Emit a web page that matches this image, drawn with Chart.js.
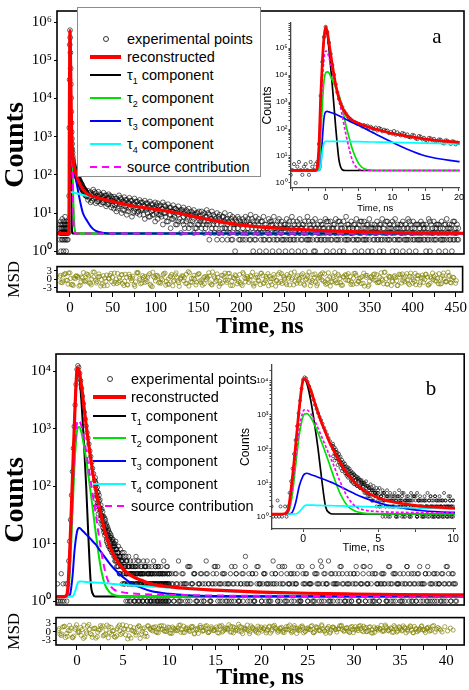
<!DOCTYPE html>
<html>
<head>
<meta charset="utf-8">
<title>Decay curves a / b</title>
<script src="https://cdn.jsdelivr.net/npm/chart.js@4.4.1/dist/chart.umd.min.js"></script>
<style>
  body { margin: 0; background: #fff; }
  #wrap { position: relative; width: 469px; height: 690px; overflow: hidden; background: #fff;
          font-family: "Liberation Sans", Arial, sans-serif; color: #000; }
  #wrap canvas { position: absolute; }
  .ytitle { position: absolute; font: bold 28px "Liberation Serif", "Times New Roman", serif;
            transform: translate(-50%, -50%) rotate(-90deg); white-space: nowrap; }
  .tag { position: absolute; font: 21px "Liberation Serif", "Times New Roman", serif; transform: translate(-50%, -50%); }
  .lbox { position: absolute; border: 1px solid #8c8c8c; background: #fff; }
  .lrow { position: absolute; width: 0; height: 0; }
  .sw { position: absolute; left: 0; }
  .dot { position: absolute; width: 4px; height: 4px; border: 1px solid #333; border-radius: 50%; }
  .lt { position: absolute; top: 0; transform: translateY(-50%); white-space: nowrap; line-height: 1; font-size: 14.5px; }
  .lt sub { font-size: 9px; vertical-align: -4px; line-height: 0; }
</style>
</head>
<body>
<div id="wrap">
  <canvas id="aMain" width="469" height="265" style="left:0px;top:0px"></canvas>
  <canvas id="aRes" width="469" height="85" style="left:0px;top:258px"></canvas>
  <canvas id="bMain" width="469" height="276" style="left:0px;top:340px"></canvas>
  <canvas id="bRes" width="469" height="81" style="left:0px;top:609px"></canvas>
  <canvas id="aInset" width="215" height="205" style="left:250px;top:15px"></canvas>
  <canvas id="bInset" width="240" height="200" style="left:225px;top:355px"></canvas>
  <div class="ytitle" style="left:14px;top:145px">Counts</div>
  <div class="ytitle" style="left:14px;top:500px">Counts</div>
  <div class="tag" style="left:437px;top:36px">a</div>
  <div class="tag" style="left:431px;top:388px">b</div>
</div>
<script>
// ---------- panel a : data (times in ns, counts) ----------
// measured counts, channel grid -12 ns .. 20 ns, step 0.25 ns
var aNearStart = -12, aNearStep = 0.25;
var aNear = [4,2,5,3,3,6,1,4,3,5,2,4,7,3,2,5,4,3,1,6,3,4,2,5,3,8,4,2,3,5,1,4,6,3,2,4,5,3,2,6,4,3,5,
  6,28,1700,31000,255000,612000,392000,158000,61000,23500,10300,4500,2300,1320,880,650,470,385,300,255,228,198,182,172,158,152,
  141,124,139,117,133,109,121,106,98,113,88,108,101,82,94,86,88,70,78,67,84,61,75,64,
  58,71,67,54,63,50,49,60,58,45,42,55,52,41,47,39,36,47,45,38,43,34,33,41,40,31,29,38,37,33,28,35,34,27,31,30];
// long tail, step 3 ns, several overlapping channel subsets
var aFarStart = 21, aFar2Start = 22.5, aFarStep = 3;
var aFarHi = [38,35,41,33,36,30,34,29,31,27,
  27,24,29,23,26,22,25,21,24,20,22,19,21,18,20,17,19,
  18,16,19,15,17,14,16,13,15,12,14,12,13,11,12,10,11,
  11,10,12,9,11,8,10,9,8,10,7,9,8,7,8,6,7,
  8,7,9,6,8,7,6,8,5,7,6,8,5,7,6,5,
  7,6,8,5,6,7,5,6,8,5,6,7,5,6,5,7,6,
  6,5,7,6,5,6,8,5,6,5,7,5,6,6,5,7,5,
  5,6,5,7,5,6,5,6,7,5,5,6,5,7,5,6,5,
  5,6,5,5,7,5,6,5,5,6,5,7,5,5,6,5];
var aFarMid = [29,26,31,25,27,24,26,22,25,21,
  20,18,21,17,19,16,18,15,17,14,16,13,15,13,14,12,13,
  12,11,13,10,12,9,11,10,9,10,8,9,8,9,7,8,7,
  7,6,8,5,7,6,5,7,4,6,5,4,6,5,4,5,4,
  5,4,5,3,4,5,3,4,4,3,5,4,3,4,3,4,
  4,3,4,3,4,3,4,3,3,4,3,4,3,3,4,3,4,
  3,4,3,3,4,3,3,4,3,3,4,3,3,4,3,3,4,
  3,3,4,3,3,3,4,3,3,4,3,3,3,4,3,3,3,
  3,3,4,3,3,3,3,4,3,3,3,3,4,3,3,3];
var aFarLo = [22,19,24,18,20,17,19,15,17,14,
  13,11,15,10,12,9,13,8,11,10,9,12,7,10,8,9,6,
  7,9,5,8,6,4,7,5,6,3,5,6,4,5,3,4,5,
  4,3,5,2,4,3,2,3,2,4,2,3,2,1,3,2,2,
  2,3,2,1,2,3,2,2,1,2,3,2,2,1,2,2,
  2,2,1,2,2,3,2,1,2,2,2,1,2,2,3,2,2,
  2,1,2,2,2,1,2,2,3,2,2,2,1,2,2,2,1,
  2,2,1,2,2,2,2,1,2,2,2,1,2,2,2,2,1,
  2,2,2,1,2,2,2,2,1,2,2,2,2,1,2,2];
var aFar2A = [33,30,36,28,31,27,29,25,28,24,
  24,21,25,20,22,19,21,18,20,17,19,16,18,15,17,14,16,
  15,13,16,12,14,11,13,12,11,12,10,11,9,10,9,10,8,
  9,8,10,7,9,7,8,6,8,7,6,7,5,6,7,5,6,
  6,5,7,5,6,4,6,5,4,6,5,4,6,5,4,5,
  5,4,6,4,5,4,5,4,6,4,5,4,4,5,4,6,4,
  4,5,4,6,4,4,5,4,4,5,4,6,4,4,5,4,4,
  4,4,5,4,6,4,4,5,4,4,5,4,4,6,4,4,5,
  4,5,4,4,6,4,4,5,4,4,5,4,4,6,4,4];
var aFar2B = [25,21,27,20,23,19,22,17,20,16,
  16,13,17,12,15,11,14,10,13,11,12,9,12,8,11,9,10,
  9,8,10,6,9,7,8,5,7,6,4,7,5,6,4,5,6,
  5,4,6,3,5,4,3,5,3,4,3,2,4,3,2,3,3,
  3,2,4,2,3,1,3,2,3,2,1,3,2,3,2,1,
  3,2,2,3,1,2,3,2,2,3,1,2,3,2,2,1,3,
  2,3,2,1,3,2,2,3,2,1,2,3,2,2,1,3,2,
  3,2,2,1,3,2,3,2,1,2,3,2,2,1,3,2,2,
  2,3,2,2,1,3,2,3,2,2,1,3,2,2,3,2];
// fitted curves
var aCurveT = [-15,-5,-1.5,-1.25,-1,-0.75,-0.5,-0.25,0,0.25,0.5,0.75,1,1.25,1.5,1.75,2,2.5,3,3.5,4,5,6,7,8,10,12,15,20,25,30,40,50,75,100,125,150,200,250,300,350,400,460];
var aFit = [2.9,2.9,2.9,4,25,1500,3e4,2.5e5,6e5,4e5,1.6e5,6e4,2.4e4,1e4,4500,2300,1350,620,380,270,
  210,160,128,107,92,68,55,42,32,28,26,22.5,20,15,12.5,10,7.6,4.8,3.9,3.4,3.15,3.0,2.95];
var aTau1 = [2.9,2.9,2.9,3.5,20,1200,2.5e4,2e5,5e5,3e5,9e4,2e4,4000,700,120,25,7,3.1,2.9,2.9,
  2.9,2.9,2.9,2.9,2.9,2.9,2.9,2.9,2.9,2.9,2.9,2.9,2.9,2.9,2.9,2.9,2.9,2.9,2.9,2.9,2.9,2.9,2.9];
var aTau2 = [2.9,2.9,2.9,3,4,50,800,6000,1.2e4,1.3e4,1.2e4,9000,6500,4800,3500,2500,1800,600,150,50,
  18,5,3.2,2.95,2.9,2.9,2.9,2.9,2.9,2.9,2.9,2.9,2.9,2.9,2.9,2.9,2.9,2.9,2.9,2.9,2.9,2.9,2.9];
var aTau3 = [2.9,2.9,2.9,2.9,2.9,4,40,250,430,450,430,410,390,370,350,330,310,270,230,200,
  175,135,100,75,56,32,19,10,6.2,4.2,3.4,3.0,2.9,2.9,2.9,2.9,2.9,2.9,2.9,2.9,2.9,2.9,2.9];
var aTau4 = [2.9,2.9,2.9,2.9,2.95,4,15,30,35,35,35,35,35,35,35,35,35,34.8,34.6,34.4,
  34.2,33.8,33.4,33,32.6,31.8,31,29.8,28,26.4,24.9,22.2,19.8,14.8,12.3,9.8,7.5,4.7,3.8,3.35,3.1,2.98,2.93];
var aSource = [2.9,2.9,2.9,3,8,300,6000,4e4,7.8e4,7e4,4.5e4,2.5e4,1.4e4,8000,4500,2500,1300,300,70,20,
  7,3.2,2.92,2.9,2.9,2.9,2.9,2.9,2.9,2.9,2.9,2.9,2.9,2.9,2.9,2.9,2.9,2.9,2.9,2.9,2.9,2.9,2.9];
// weighted residuals (MSD), three interleaved channel subsets, step 3 ns
var aResStart1 = -12, aResStart2 = -10.5, aResStart3 = -11.25, aResStep = 3;
var aRes1 = [0.8,-1.2,1.9,-0.4,2.3,-1.8,0.2,1.1,-2.1,0.6,-0.9,1.7,-1.4,2.6,-0.3,0.9,-2.4,1.3,-0.7,0.4,
  2.1,-1.6,0.1,-1.1,1.5,-2.2,0.7,1.8,-0.5,-1.9,2.4,0.3,-1.3,1.0,-0.8,2.0,-2.6,0.5,1.4,-1.0,
  -0.2,2.2,-1.7,0.9,-2.3,1.6,-0.6,0.2,1.2,-1.5,2.7,-0.9,0.4,-2.0,1.9,-1.2,0.6,-0.1,2.3,-1.8,
  1.1,-0.4,-2.5,1.4,0.8,-1.1,2.1,-0.7,0.3,-1.6,1.7,-2.2,0.5,1.0,-0.3,2.5,-1.4,0.7,-1.9,1.3,
  -0.5,2.0,-1.0,0.2,-2.4,1.8,-0.8,1.1,-1.3,0.4,2.2,-2.0,0.9,-0.6,1.5,-1.7,0.1,2.6,-1.1,0.6,
  -2.3,1.2,-0.2,1.9,-1.5,0.8,-0.9,2.4,-1.2,0.3,-2.1,1.6,-0.4,1.0,-1.8,2.1,-0.7,0.5,-1.4,1.4,
  -2.5,0.7,1.7,-0.3,-1.0,2.3,-1.6,0.2,1.1,-2.2,0.9,-0.5,1.8,-1.3,0.4,2.0,-1.9,0.6,-0.8,1.3,
  -2.0,1.5,-0.1,0.8,-1.5,2.2,-0.6,0.3,-1.7,1.2,-0.9,2.5,-1.1,0.7,-1.4];
var aRes2 = [-1.1,1.6,-0.3,2.2,-1.9,0.5,1.2,-2.4,0.8,-0.6,1.9,-1.3,0.1,2.5,-0.8,1.0,-1.7,0.4,-2.2,1.4,
  0.7,-1.0,2.1,-0.5,-1.5,1.8,-2.0,0.3,1.1,-0.9,2.4,-1.6,0.6,-0.2,1.5,-2.3,0.9,1.3,-1.2,0.2,
  2.0,-0.7,-1.8,1.7,-0.4,0.8,-2.5,1.2,0.5,-1.4,2.3,-1.1,0.0,1.6,-0.6,-2.1,1.0,0.4,-1.3,2.6,
  -0.9,0.7,-1.6,1.4,-0.3,2.1,-2.2,0.6,1.2,-0.8,-1.7,1.9,0.2,-1.1,0.9,-2.4,1.5,-0.5,2.2,-1.2,
  0.3,1.1,-1.9,0.8,-0.4,2.4,-1.5,0.1,1.7,-2.0,0.5,-0.7,1.3,-1.4,2.0,-0.2,0.9,-2.3,1.6,-1.0,
  0.4,1.8,-0.6,-1.8,2.3,-0.9,0.6,-1.3,1.2,-2.1,0.8,1.5,-0.4,-1.0,2.1,-1.6,0.3,0.9,-2.4,1.4,
  -0.7,0.2,1.9,-1.2,0.7,-0.3,2.5,-1.7,1.0,-0.8,0.5,-2.2,1.6,-0.5,1.1,-1.4,2.2,-0.1,-1.9,1.3,
  0.6,-1.1,1.8,-2.0,0.4,1.0,-0.6,2.0,-1.5,0.2,-0.9,1.4,-0.2];
var aRes3 = [1.4,-0.6,2.0,-1.7,0.3,-2.2,1.1,0.6,-1.0,2.4,-0.4,1.2,-2.0,0.8,-1.3,1.9,-0.1,-2.3,1.5,0.2,
  -0.9,2.2,-1.5,0.5,1.7,-0.7,-1.9,1.0,0.4,-2.5,2.1,-0.3,1.3,-1.1,0.7,-1.8,2.5,-0.6,0.9,-1.4,
  1.6,-2.1,0.1,1.1,-0.8,2.3,-1.2,0.6,-0.5,1.8,-2.4,0.3,1.4,-1.0,2.0,-0.2,-1.6,0.8,1.2,-2.0,
  0.5,1.9,-0.7,-1.3,2.2,-0.4,0.9,-2.2,1.6,0.0,-1.1,2.4,-0.9,0.4,1.3,-1.7,0.7,-0.3,2.1,-1.5,
  1.0,-2.3,0.2,1.7,-0.6,-1.2,2.0,0.5,-1.9,1.1,-0.1,2.6,-1.4,0.3,0.8,-2.1,1.5,-0.7,-0.4,1.9,
  -1.6,0.6,2.3,-1.0,0.1,-2.4,1.2,-0.5,1.8,-1.3,0.9,-0.2,2.0,-1.8,0.4,1.4,-0.8,-1.5,2.2,0.7,
  -2.0,1.0,-0.3,1.6,-1.1,0.2,2.5,-1.7,0.6,-0.6,1.3,-2.2,0.8,1.9,-0.9,-0.4,1.1,-1.4,2.1,0.3,
  -1.2,0.5,1.7,-2.0,0.9,-0.1,1.5,-1.6,0.4,2.2,-0.7,1.0,-1.3,0.6,-0.5];

// ---------- panel b ----------
var bNearStart = -2.2, bNearStep = 0.1;   // -2.2 .. 10 ns
var bNear = [1,2,1,null,1,3,1,2,1,null,2,1,
  2,5,11,26,70,180,460,1100,2600,5900,
  10800,12600,11700,9300,6900,5100,3700,2750,1950,1480,
  1120,860,690,545,415,330,262,205,166,128,
  98,88,66,61,45,42,31,29,22,23,
  17,21,12,16,14,9,13,11,8,12,
  9,6,8,5,7,4,6,3,5,4,
  4,3,2,5,3,2,4,1,3,2,
  3,2,1,4,2,3,1,2,3,2,
  2,3,1,2,4,2,1,3,2,1,
  2,1,3,2,null,2,1,3,1,2,
  1,2,3,1,2,null,2,1,3,2,1];
var bMidStart = 2.0, bMidStep = 0.1;      // 2 .. 10 ns, extra channel subsets
var bMidA = [120,72,80,50,55,35,38,25,30,18,24,15,19,10,17,12,8,14,7,10,
  6,10,5,8,4,7,3,6,5,2,6,2,4,3,5,1,3,4,2,3,2,4,3,1,3,2,5,2,1,3,
  3,1,2,4,2,3,1,2,3,2,1,3,2,2,1,4,2,1,2,3,2,1,2,3,1,2,1,2,4,1,2];
var bMidB = [140,110,95,78,70,58,47,40,36,30,28,26,22,20,18,16,15,13,12,11,
  10,9,11,8,7,9,6,8,5,7,5,7,4,6,5,4,6,3,5,4,4,5,3,4,6,3,4,5,3,4,
  4,3,5,3,4,2,5,3,4,3,3,4,2,5,3,4,3,2,4,3,3,4,2,3,5,3,2,4,3,2,3];
var bMidC = [60,45,52,33,40,27,22,30,19,16,14,18,11,13,9,12,8,10,7,9,
  8,5,7,4,6,5,3,6,4,5,3,2,4,1,3,2,4,2,1,3,2,3,1,2,4,2,3,1,2,3,
  2,1,3,2,2,4,1,3,2,2,1,3,2,1,3,2,2,1,4,2,1,3,2,1,2,3,1,2,2,1,3];
var bFarStart = 10.25, bFarStep = 0.25;   // 10.25 .. 41 ns
var bFarA = [2,1,3,1,2,2,1,4,1,2,3,1,2,1,1,3,2,1,2,4,1,2,1,3,2,1,1,2,3,1,2,1,4,2,1,3,1,2,2,1,
  3,1,2,1,2,3,1,1,2,4,1,2,3,1,2,1,1,3,2,1,2,1,3,2,1,4,1,2,1,3,1,2,2,1,3,1,2,1,1,3,
  2,1,2,4,1,2,1,3,1,2,1,2,3,1,2,1,1,3,2,1,2,1,4,2,1,3,1,2,1,2,3,1,2,1,1,3,2,1,2,1,3,1,2,1];
var bFarB = [3,1,2,5,1,3,2,1,4,2,3,1,2,3,1,5,2,1,3,2,4,1,3,2,1,2,4,1,3,1,2,3,6,1,2,3,1,4,2,1,
  3,2,1,2,5,3,1,2,4,1,3,2,1,3,2,4,1,2,3,1,2,4,1,3,2,1,3,2,5,1,2,3,1,4,2,1,3,2,1,3,
  4,1,2,3,1,2,4,1,3,2,1,3,2,1,4,2,3,1,2,3,1,2,4,1,3,2,1,3,2,1,3,4,1,2,3,1,2,3,1,4,2,1,3,2];
var bFarC = [2,3,2,1,3,2,2,4,2,3,1,2,3,2,2,3,1,2,4,3,2,2,3,1,2,3,2,4,2,1,3,2,2,3,2,1,3,4,2,2,
  3,2,1,3,2,2,4,3,2,1,2,3,2,2,3,1,4,2,3,2,2,1,3,2,5,2,3,2,1,3,2,2,3,4,2,1,2,3,2,2,
  3,1,2,4,2,3,2,1,3,2,2,3,2,1,4,2,3,2,2,1,3,2,3,2,1,2,3,4,2,2,1,3,2,3,2,2,1,3,2,4,2,3,2,1];
var bCurveT = [-2.5,-1.5,-1.25,-1,-0.75,-0.5,-0.25,0,0.1,0.25,0.5,0.75,1,1.25,1.5,1.75,2,2.5,3,3.5,4,5,6,7,8,10,12,15,20,25,30,35,42];
var bFit = [1.2,1.2,1.22,1.6,10,120,1600,1.05e4,1.15e4,1.0e4,5500,2500,1150,560,300,160,95,38,17,9.5,
  6.2,3.6,2.7,2.3,2.0,1.78,1.66,1.56,1.44,1.37,1.33,1.3,1.28];
var bTau1 = [1.2,1.2,1.21,1.5,9,110,1500,1.0e4,1.1e4,8500,2800,600,100,12,2.0,1.3,1.2,1.2,1.2,1.2,
  1.2,1.2,1.2,1.2,1.2,1.2,1.2,1.2,1.2,1.2,1.2,1.2,1.2];
var bTau2 = [1.2,1.2,1.2,1.3,3.5,30,260,900,1050,1080,850,520,290,150,75,36,17,4.5,2.0,1.45,
  1.28,1.22,1.2,1.2,1.2,1.2,1.2,1.2,1.2,1.2,1.2,1.2,1.2];
var bTau3 = [1.2,1.2,1.2,1.2,1.3,2.5,8,16,18,19,17.5,16,14.5,13.2,12,10.8,9.8,7.6,5.9,4.6,
  3.7,2.6,2.0,1.7,1.5,1.34,1.27,1.23,1.21,1.21,1.21,1.21,1.21];
var bTau4 = [1.2,1.2,1.2,1.2,1.2,1.2,1.4,1.9,2.1,2.2,2.2,2.18,2.15,2.14,2.13,2.12,2.1,2.08,2.05,2.02,
  1.98,1.93,1.88,1.84,1.8,1.72,1.62,1.52,1.4,1.34,1.3,1.28,1.26];
var bSource = [1.2,1.2,1.2,1.35,5,50,400,1250,1400,1380,1100,700,400,220,120,65,36,10,3.6,2.0,
  1.6,1.42,1.36,1.33,1.31,1.29,1.27,1.25,1.24,1.23,1.23,1.23,1.23];
var bResStart1 = -2, bResStart2 = -1.85, bResStart3 = -1.95, bResStep = 0.3;
var bRes1 = [0.5,-1.4,1.8,-0.6,2.3,-2.0,0.9,-0.3,1.5,-2.4,0.2,2.6,-1.1,1.2,-1.8,0.7,2.1,-0.9,-2.2,1.6,
  0.4,-1.5,2.4,-0.5,1.0,-2.6,1.9,0.3,-1.2,2.2,-0.8,1.4,-1.7,
  1.2,0.3,1.8,-0.4,0.9,2.1,0.1,1.5,-0.6,1.1,0.5,2.4,-0.2,1.3,0.8,1.9,-0.8,0.6,1.6,0.2,2.0,-0.3,
  1.0,0.4,1.7,-0.5,2.2,0.7,1.2,-0.1,1.8,0.5,2.7,0.0,1.4,0.9,-0.7,1.6,0.3,2.0,0.8,1.1,-0.4,1.7,
  0.2,2.3,0.6,1.3,-0.2,0.9,1.9,0.4,1.5,-0.6,1.0,2.1,0.1,1.4,0.7,-0.3,1.8,0.5,2.5,0.2,1.2,-0.5,
  1.6,0.8,1.0,2.0,0.3,1.3,-0.1,1.9,0.6,1.1,2.2,0.0,1.5,0.4,-0.4,1.7,0.9,1.2,0.1,2.4,0.5,1.4,
  -0.2,1.0,1.8,0.3,1.6,0.7,2.1,-0.3,1.1,0.4,1.9,0.8,1.3,0.2,2.0,-0.1,1.5,0.6];
var bRes2 = [-0.9,1.7,-2.1,0.4,1.3,-1.6,2.5,-0.2,0.8,-1.9,2.0,-0.7,1.1,-2.3,0.6,1.5,-1.2,2.4,-0.4,0.2,
  -2.0,1.8,-1.0,0.9,2.2,-1.5,0.5,-0.1,1.6,-2.4,1.0,-0.6,2.1,
  0.6,1.5,-0.2,2.0,0.9,0.1,1.7,-0.5,1.2,0.4,2.3,0.7,-0.3,1.4,0.2,1.9,1.0,-0.6,1.6,0.5,2.2,0.0,
  1.3,0.8,-0.4,1.8,0.3,1.1,2.5,-0.1,1.5,0.6,1.9,-0.7,1.0,0.4,2.1,0.9,-0.2,1.4,0.2,1.7,0.7,-0.5,
  2.0,1.2,0.3,1.6,-0.3,0.9,2.4,0.1,1.3,0.5,1.8,-0.4,1.1,0.8,2.2,0.0,1.5,0.3,1.0,-0.6,1.9,0.6,
  1.4,-0.1,2.1,0.7,1.2,0.2,1.6,-0.3,0.9,2.0,0.4,1.3,0.1,1.8,-0.5,1.1,0.6,2.3,0.2,1.5,0.8,-0.2,
  1.7,0.3,1.0,2.1,-0.4,1.4,0.5,1.9,0.0,1.2,0.7,-0.3,1.6,0.4,2.2,0.9,1.1,-0.1,1.8,0.3,1.3,0.6];
var bRes3 = [1.1,-0.8,2.0,-1.7,0.4,-2.2,1.6,0.2,-1.3,2.4,-0.5,0.9,-2.0,1.3,-0.2,2.2,-1.5,0.6,1.8,-0.9,
  -1.8,1.0,0.3,2.5,-1.1,0.7,-2.3,1.4,-0.4,1.9,0.1,-1.6,2.1,
  0.9,1.6,-0.1,1.2,2.2,0.3,1.0,-0.5,1.7,0.6,1.4,-0.2,2.0,0.8,0.2,1.5,-0.6,1.1,2.3,0.4,1.3,-0.3,
  1.8,0.5,1.0,2.1,-0.1,1.4,0.7,1.9,-0.4,1.2,0.2,1.6,0.9,2.4,0.0,1.3,0.6,-0.5,1.7,1.0,0.3,2.0,
  0.8,1.5,-0.2,1.1,0.4,1.8,0.7,-0.3,2.2,1.2,0.5,1.6,0.1,1.0,1.9,-0.4,1.4,0.6,2.1,0.3,1.3,-0.1,
  1.7,0.8,1.1,2.3,0.2,1.5,-0.3,0.9,1.8,0.4,1.2,2.0,0.0,1.6,0.7,-0.2,1.4,1.0,0.5,1.9,0.3,1.1,
  2.2,-0.1,1.5,0.6,1.3,0.2,1.8,-0.4,1.0,0.7,2.1,0.4,1.2,0.9];

// ---------- styles ----------
var SERIF = '"Liberation Serif", "Times New Roman", serif';
var SANS = '"Liberation Sans", Arial, sans-serif';
var OLIVE = 'rgba(128,128,0,0.85)';
var STYLE = {
  fit:    { label: 'reconstructed',       color: '#ff0000', width: 3.2, order: 0 },
  source: { label: 'source contribution', color: '#ff00ff', width: 2,   order: 1, dashed: true },
  tau4:   { label: 'τ₄ component',        color: '#00ffff', width: 2,   order: 2 },
  tau3:   { label: 'τ₃ component',        color: '#0000ff', width: 2,   order: 3 },
  tau2:   { label: 'τ₂ component',        color: '#00e000', width: 2,   order: 4 },
  tau1:   { label: 'τ₁ component',        color: '#000000', width: 2,   order: 5 }
};

Chart.defaults.animation = false;
Chart.defaults.responsive = false;
Chart.defaults.devicePixelRatio = 1;
Chart.defaults.events = [];
Chart.defaults.plugins.legend.display = false;
Chart.defaults.plugins.tooltip.enabled = false;
Chart.defaults.color = '#000';

// helpers
function onGrid(start, step, ys) { return ys.map(function (y, i) { return { x: +(start + step * i).toFixed(3), y: y }; }); }
function pairs(ts, ys) { return ts.map(function (t, i) { return { x: t, y: ys[i] }; }); }
function fitW(w) { return function (s) { s.width = w; }; }
function fitH(h) { return function (s) { s.height = h; }; }
function setTicks(vals) { return function (s) { s.ticks = vals.map(function (v) { return { value: v }; }); }; }
function steps(a, b, st) { var o = []; for (var v = a; v <= b + 1e-9; v += st) o.push(+v.toFixed(4)); return o; }
function decades(lo, hi, minor, max) {
  var o = [];
  for (var e = lo; e <= hi; e++) {
    o.push(Math.pow(10, e));
    if (minor) for (var m = 2; m <= 9; m++) { if (m * Math.pow(10, e) <= max) o.push(m * Math.pow(10, e)); }
  }
  return o;
}
var SUP = '⁰¹²³⁴⁵⁶⁷⁸⁹';
function powLabel(v) {
  var e = Math.round(Math.log10(v));
  if (Math.abs(v / Math.pow(10, e) - 1) > 1e-6) return '';
  return '10' + String(e).split('').map(function (d) { return SUP[+d]; }).join('');
}

function points(data, r, color) {
  return { label: 'experimental points', data: data, showLine: false, pointRadius: r, pointBorderWidth: 0.8,
           pointBorderColor: color || 'rgba(0,0,0,0.78)', pointBackgroundColor: 'rgba(0,0,0,0)', order: 10 };
}
function curve(key, T, ys, dash, scale) {
  var s = STYLE[key];
  return { label: s.label, data: pairs(T, ys), showLine: true, pointRadius: 0, borderColor: s.color,
           borderWidth: s.width * (scale || 1), borderDash: s.dashed ? dash : [], cubicInterpolationMode: 'monotone', order: s.order };
}
function curveSet(T, c, dash, scale) {
  return [curve('fit', T, c.fit, dash, scale), curve('source', T, c.source, dash, scale), curve('tau4', T, c.tau4, dash, scale),
          curve('tau3', T, c.tau3, dash, scale), curve('tau2', T, c.tau2, dash, scale), curve('tau1', T, c.tau1, dash, scale)];
}

var framePlugin = {
  id: 'frame',
  afterDraw: function (chart, args, opts) {
    if (!opts.on) return;
    var c = chart.chartArea, ctx = chart.ctx;
    ctx.save(); ctx.strokeStyle = '#000'; ctx.lineWidth = 1.6;
    ctx.strokeRect(c.left, c.top, c.right - c.left, c.bottom - c.top);
    ctx.restore();
  }
};

function mainChart(id, xr, yr, yw, pad, yticks, datasets) {
  return new Chart(document.getElementById(id), {
    type: 'scatter',
    data: { datasets: datasets },
    plugins: [framePlugin],
    options: {
      layout: { padding: pad },
      plugins: { frame: { on: true } },
      scales: {
        x: { type: 'linear', min: xr[0], max: xr[1], display: false },
        y: { type: 'logarithmic', bounds: 'data', min: yr[0], max: yr[1], afterFit: fitW(yw), afterBuildTicks: setTicks(yticks),
             border: { display: false }, grid: { drawOnChartArea: false, tickLength: 3, color: '#000' },
             ticks: { callback: powLabel, autoSkip: false, padding: 2, font: { family: SERIF, size: 15 }, color: '#000' } }
      }
    }
  });
}

function resChart(id, xr, yr, yw, xh, pad, xticks, labelEvery, titlePadB, datasets) {
  return new Chart(document.getElementById(id), {
    type: 'scatter',
    data: { datasets: datasets },
    plugins: [framePlugin],
    options: {
      layout: { padding: pad },
      plugins: { frame: { on: true } },
      scales: {
        x: { type: 'linear', min: xr[0], max: xr[1], afterFit: fitH(xh), afterBuildTicks: setTicks(xticks),
             border: { display: false }, grid: { drawOnChartArea: false, tickLength: 5, color: '#000' },
             ticks: { autoSkip: false, maxRotation: 0, padding: 2, font: { family: SERIF, size: 15 }, color: '#000',
                      callback: function (v) { return Math.abs(v / labelEvery - Math.round(v / labelEvery)) < 1e-6 ? String(v) : ''; } },
             title: { display: true, text: 'Time, ns', color: '#000', font: { family: SERIF, size: 24, weight: 'bold', lineHeight: 1 },
                      padding: { top: 0, bottom: titlePadB } } },
        y: { type: 'linear', min: yr[0], max: yr[1], afterFit: fitW(yw), afterBuildTicks: setTicks([-3, 0, 3]),
             border: { display: false }, grid: { drawOnChartArea: false, tickLength: 3, color: '#000' },
             ticks: { autoSkip: false, padding: 2, font: { family: SERIF, size: 11 }, color: '#000', callback: function (v) { return String(v); } },
             title: { display: true, text: 'MSD', color: '#000', font: { family: SERIF, size: 17 }, padding: { top: 4, bottom: 0 } } }
      }
    }
  });
}

function insetChart(id, o, datasets) {
  return new Chart(document.getElementById(id), {
    type: 'scatter',
    data: { datasets: datasets },
    options: {
      layout: { padding: o.pad },
      scales: {
        x: { type: 'linear', min: o.xr[0], max: o.xr[1], afterFit: fitH(o.xh), afterBuildTicks: setTicks(o.xticks),
             border: { display: true, color: '#444', width: 1.3 }, grid: { drawOnChartArea: false, tickLength: 3, color: '#444' },
             ticks: { autoSkip: false, maxRotation: 0, padding: 1, font: { family: SANS, size: o.fs }, color: '#000',
                      callback: function (v) { return v >= 0 && v % 5 === 0 ? String(v) : ''; } },
             title: { display: true, text: 'Time, ns', color: '#000', font: { family: SANS, size: o.fs + 0.5, lineHeight: 1.2 },
                      padding: { top: 0, bottom: o.titlePadB } } },
        y: { type: 'logarithmic', bounds: 'data', min: o.yr[0], max: o.yr[1], afterFit: fitW(o.yw), afterBuildTicks: setTicks(o.yticks),
             border: { display: true, color: '#444', width: 1.3 }, grid: { drawOnChartArea: false, tickLength: 2.5, color: '#444' },
             ticks: { autoSkip: false, padding: 1, font: { family: SANS, size: 8 }, color: '#000', callback: powLabel },
             title: { display: true, text: 'Counts', color: '#000', font: { family: SANS, size: 12 }, padding: { top: o.titlePadT, bottom: 0 } } }
      }
    }
  });
}

// ---------- build panel a ----------
var aCurves = { fit: aFit, source: aSource, tau4: aTau4, tau3: aTau3, tau2: aTau2, tau1: aTau1 };
var aNearPts = onGrid(aNearStart, aNearStep, aNear);
mainChart('aMain', [-15.1, 458.1], [0.845, 1.95e6], 57, { top: 1, right: 5, bottom: 3, left: 0 }, decades(0, 6),
  curveSet(aCurveT, aCurves, [7, 5], 1).concat([
    points(aNearPts, 2.4),
    points(onGrid(aFarStart, aFarStep, aFarHi), 2.4),
    points(onGrid(aFarStart, aFarStep, aFarMid), 2.4),
    points(onGrid(aFarStart, aFarStep, aFarLo), 2.4),
    points(onGrid(aFar2Start, aFarStep, aFar2A), 2.4),
    points(onGrid(aFar2Start, aFarStep, aFar2B), 2.4)
  ]));
resChart('aRes', [-15.1, 458.1], [-4.5, 4.5], 57, 51, { top: 4, right: 5, bottom: 0, left: 0 }, steps(0, 450, 25), 50, 4, [
  points(onGrid(aResStart1, aResStep, aRes1), 2.1, OLIVE),
  points(onGrid(aResStart2, aResStep, aRes2), 2.1, OLIVE),
  points(onGrid(aResStart3, aResStep, aRes3), 2.1, OLIVE)
]);
insetChart('aInset', {
  pad: { top: 8, right: 5, bottom: 0, left: 0 }, xr: [-5.2, 20.1], yr: [0.65, 8.5e5], xh: 32, yw: 41, fs: 9,
  xticks: steps(-5, 20, 2.5), yticks: decades(0, 5, true, 8.5e5), titlePadB: 6, titlePadT: 10
}, curveSet(aCurveT, aCurves, [3, 2], 0.85).concat([points(aNearPts, 1.6)]));

// ---------- build panel b ----------
var bCurves = { fit: bFit, source: bSource, tau4: bTau4, tau3: bTau3, tau2: bTau2, tau1: bTau1 };
var bNearPts = onGrid(bNearStart, bNearStep, bNear);
var bMidPtsA = onGrid(bMidStart, bMidStep, bMidA);
var bMidPtsB = onGrid(bMidStart, bMidStep, bMidB);
var bMidPtsC = onGrid(bMidStart, bMidStep, bMidC);
mainChart('bMain', [-2.27, 41.95], [0.856, 2.01e4], 56, { top: 14, right: 4, bottom: 3, left: 0 }, decades(0, 4),
  curveSet(bCurveT, bCurves, [7, 5], 1).concat([
    points(bNearPts, 2.2), points(bMidPtsA, 2.2), points(bMidPtsB, 2.2), points(bMidPtsC, 2.2),
    points(onGrid(bFarStart, bFarStep, bFarA), 2.2),
    points(onGrid(bFarStart, bFarStep, bFarB), 2.2),
    points(onGrid(bFarStart + 0.125, bFarStep, bFarC), 2.2)
  ]));
resChart('bRes', [-2.27, 41.95], [-4.8, 5.1], 56, 45, { top: 4, right: 4, bottom: 0, left: 0 }, steps(0, 40, 2.5), 5, 0, [
  points(onGrid(bResStart1, bResStep, bRes1), 2.1, OLIVE),
  points(onGrid(bResStart2, bResStep, bRes2), 2.1, OLIVE),
  points(onGrid(bResStart3, bResStep, bRes3), 2.1, OLIVE)
]);
insetChart('bInset', {
  pad: { top: 10, right: 10, bottom: 0, left: 0 }, xr: [-2.07, 10.13], yr: [0.435, 2.9e4], xh: 26, yw: 47, fs: 10.5,
  xticks: steps(0, 10, 2.5), yticks: decades(0, 4, true, 2.9e4), titlePadB: 0, titlePadT: 13
}, curveSet(bCurveT, bCurves, [3, 2], 0.85).concat([points(bNearPts, 1.5), points(bMidPtsA, 1.5), points(bMidPtsB, 1.5), points(bMidPtsC, 1.5)]));

// ---------- legends ----------
var legendKeys = ['points', 'fit', 'tau1', 'tau2', 'tau3', 'tau4', 'source'];
var legendA = { box: { left: 77, top: 7, width: 182, height: 168 }, x: 90, lineW: 31, textDx: 37, ys: [39, 57, 75, 98, 121, 144, 167] };
var legendB = { box: null, x: 93, lineW: 33, textDx: 38, ys: [379, 397, 416, 438, 461, 484, 506] };

function drawLegend(spec) {
  var wrap = document.getElementById('wrap');
  if (spec.box) {
    var b = document.createElement('div');
    b.className = 'lbox';
    b.style.left = spec.box.left + 'px'; b.style.top = spec.box.top + 'px';
    b.style.width = spec.box.width + 'px'; b.style.height = spec.box.height + 'px';
    wrap.appendChild(b);
  }
  legendKeys.forEach(function (k, i) {
    var row = document.createElement('div');
    row.className = 'lrow';
    row.style.left = spec.x + 'px'; row.style.top = spec.ys[i] + 'px';
    var sw = document.createElement('div');
    if (k === 'points') {
      sw.className = 'dot';
      sw.style.left = (spec.lineW / 2 - 3) + 'px'; sw.style.top = '-3px';
    } else {
      var s = STYLE[k], w = s.width;
      sw.className = 'sw';
      sw.style.width = spec.lineW + 'px'; sw.style.height = w + 'px'; sw.style.top = (-w / 2) + 'px';
      sw.style.background = s.dashed
        ? 'repeating-linear-gradient(90deg,' + s.color + ' 0 7px, transparent 7px 12px)'
        : s.color;
    }
    var tx = document.createElement('span');
    tx.className = 'lt';
    tx.style.left = spec.textDx + 'px';
    var label = k === 'points' ? 'experimental points' : STYLE[k].label;
    tx.innerHTML = label.replace(/[₁₂₃₄]/g, function (c) { return '<sub>' + ('₁₂₃₄'.indexOf(c) + 1) + '</sub>'; });
    row.appendChild(sw); row.appendChild(tx);
    wrap.appendChild(row);
  });
}
drawLegend(legendA);
drawLegend(legendB);
</script>
</body>
</html>
